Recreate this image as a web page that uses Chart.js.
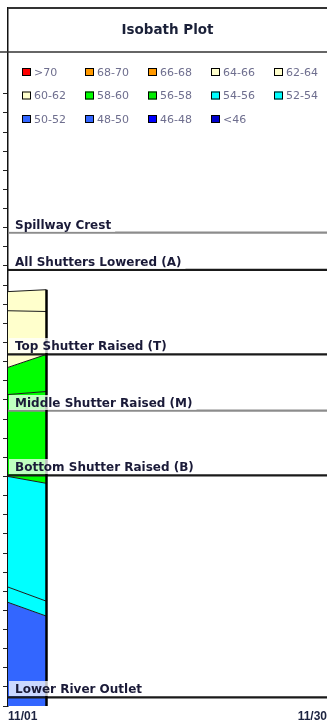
<!DOCTYPE html>
<html lang="en">
<head>
  <meta charset="UTF-8">
  <title>Isobath Plot</title>
  <script src="https://cdn.jsdelivr.net/npm/chart.js"></script>
  <style>
    html, body { margin: 0; padding: 0; background: #fff; }
    #wrap { width: 330px; height: 727px; position: relative; }
  </style>
</head>
<body>
  <div id="wrap"><canvas id="isobath"></canvas></div>

  <script>
    // x = days after 11/01, y = elevation (ft)
    const xTickLabels = ['11/01', '11/30'];
    const xRange = [0, 29];
    const profileDays = [0, 3.5];

    // temperature bands, top edge at start / end of the profile
    const bandNames = ['62-64', '60-62', '58-60', '56-58', '54-56', '52-54', '50-52'];
    const bandColors = ['#ffffcc', '#ffffcc', '#00ff00', '#00ff00', '#00ffff', '#00ffff', '#3366ff'];
    const bandTops = [
      [688.3, 688.8],
      [683.3, 683.1],
      [668.5, 671.9],
      [661.4, 662.2],
      [640.0, 638.2],
      [611.1, 607.4],
      [607.1, 603.5]
    ];

    // structure elevations
    const refNames = ['Spillway Crest', 'All Shutters Lowered (A)', 'Top Shutter Raised (T)',
                      'Middle Shutter Raised (M)', 'Bottom Shutter Raised (B)', 'Lower River Outlet'];
    const refLevels = [703.7, 694.0, 671.9, 657.2, 640.3, 582.3];
    const refColors = ['#8c8c8c', '#1a1a1a', '#1a1a1a', '#8c8c8c', '#1a1a1a', '#1a1a1a'];

    const legendLabels = ['>70', '68-70', '66-68', '64-66', '62-64',
                          '60-62', '58-60', '56-58', '54-56', '52-54',
                          '50-52', '48-50', '46-48', '<46'];
    const legendColors = ['#ff0000', '#ff9900', '#ff9900', '#ffffcc', '#ffffcc',
                          '#ffffcc', '#00ff00', '#00ee00', '#00ffff', '#00ffff',
                          '#3366ff', '#3366ff', '#0000ff', '#0000cc'];

    const yMin = 580, yMax = 762.4, yStep = 5, yLastTick = 740;

    const datasets = [];

    // right edge of the profile column
    datasets.push({
      label: 'edge',
      data: [{ x: profileDays[1], y: yMin }, { x: profileDays[1], y: bandTops[0][1] }],
      borderColor: '#000',
      borderWidth: 2.5,
      pointRadius: 0,
      fill: false
    });

    // reference lines
    refLevels.forEach((lvl, i) => {
      datasets.push({
        label: refNames[i],
        data: [{ x: xRange[0], y: lvl }, { x: xRange[1], y: lvl }],
        borderColor: refColors[i],
        borderWidth: 2.2,
        pointRadius: 0,
        fill: false
      });
    });

    // bands, each filled down to the next one
    bandTops.forEach((tops, i) => {
      datasets.push({
        label: bandNames[i],
        data: profileDays.map((d, j) => ({ x: d, y: tops[j] })),
        borderColor: '#1a1a1a',
        borderWidth: 1,
        backgroundColor: bandColors[i],
        pointRadius: 0,
        tension: 0,
        fill: i < bandTops.length - 1 ? '+1' : 'start'
      });
    });

    const overlayPlugin = {
      id: 'overlay',
      afterDatasetsDraw(chart) {
        const { ctx, chartArea, scales } = chart;
        ctx.save();
        ctx.font = 'bold 12px "DejaVu Sans"';
        ctx.textBaseline = 'alphabetic';
        refLevels.forEach((lvl, i) => {
          const y = Math.round(scales.y.getPixelForValue(lvl));
          const w = ctx.measureText(refNames[i]).width;
          ctx.fillStyle = 'rgba(255,255,255,0.75)';
          ctx.fillRect(chartArea.left + 1, y - 16, w + 10, 15);
          ctx.fillStyle = '#1a1a38';
          ctx.fillText(refNames[i], chartArea.left + 7, y - 4);
        });
        ctx.restore();
      },
      afterDraw(chart) {
        const { ctx, chartArea } = chart;
        const top = chartArea.top;
        ctx.save();
        ctx.strokeStyle = '#333';
        ctx.lineWidth = 2;
        ctx.beginPath();
        ctx.moveTo(chartArea.left, top);
        ctx.lineTo(chartArea.right, top);
        ctx.stroke();
        ctx.lineWidth = 1.5;
        ctx.beginPath();
        ctx.moveTo(0, top + 44);
        ctx.lineTo(chartArea.right, top + 44);
        ctx.stroke();

        ctx.fillStyle = '#1a2038';
        ctx.font = 'bold 13.5px "DejaVu Sans"';
        ctx.textAlign = 'center';
        ctx.textBaseline = 'middle';
        ctx.fillText('Isobath Plot', (chartArea.left + chartArea.right) / 2, top + 22);

        ctx.font = '11px "DejaVu Sans"';
        ctx.textAlign = 'left';
        legendLabels.forEach((lab, i) => {
          const col = i % 5, row = Math.floor(i / 5);
          const x = chartArea.left + 14 + col * 63;
          const y = top + 64 + row * 23.5;
          ctx.fillStyle = legendColors[i];
          ctx.fillRect(x, y - 4, 9, 8);
          ctx.strokeStyle = '#000';
          ctx.lineWidth = 1;
          ctx.strokeRect(x + 0.5, y - 3.5, 8, 7);
          ctx.fillStyle = '#6e6e8e';
          ctx.fillText(lab, x + 12, y + 1);
        });
        ctx.restore();
      }
    };

    new Chart(document.getElementById('isobath'), {
      type: 'line',
      data: { datasets: datasets },
      plugins: [overlayPlugin],
      options: {
        responsive: true,
        maintainAspectRatio: false,
        animation: false,
        layout: { padding: { left: 3, top: 8, right: 0, bottom: 0.5 } },
        plugins: {
          legend: { display: false },
          title: { display: false },
          tooltip: { enabled: false },
          filler: { drawTime: 'beforeDatasetsDraw' }
        },
        scales: {
          x: {
            type: 'linear',
            min: xRange[0],
            max: xRange[1],
            afterBuildTicks: axis => {
              axis.ticks = xRange.map(v => ({ value: v }));
            },
            ticks: {
              autoSkip: false,
              maxRotation: 0,
              align: 'inner',
              padding: 3,
              color: '#1c2340',
              font: { family: 'Liberation Sans', size: 12, weight: 'bold' },
              callback: (value, index) => xTickLabels[index]
            },
            grid: { display: false, drawTicks: false },
            border: { display: false }
          },
          y: {
            type: 'linear',
            min: yMin,
            max: yMax,
            afterBuildTicks: axis => {
              axis.ticks = axis.ticks.filter(t => t.value <= yLastTick);
            },
            ticks: { display: false, stepSize: yStep },
            grid: { drawOnChartArea: false, drawTicks: true, tickLength: 5, color: '#222' },
            border: { display: true, color: '#111', width: 1.5 }
          }
        }
      }
    });
  </script>
</body>
</html>
